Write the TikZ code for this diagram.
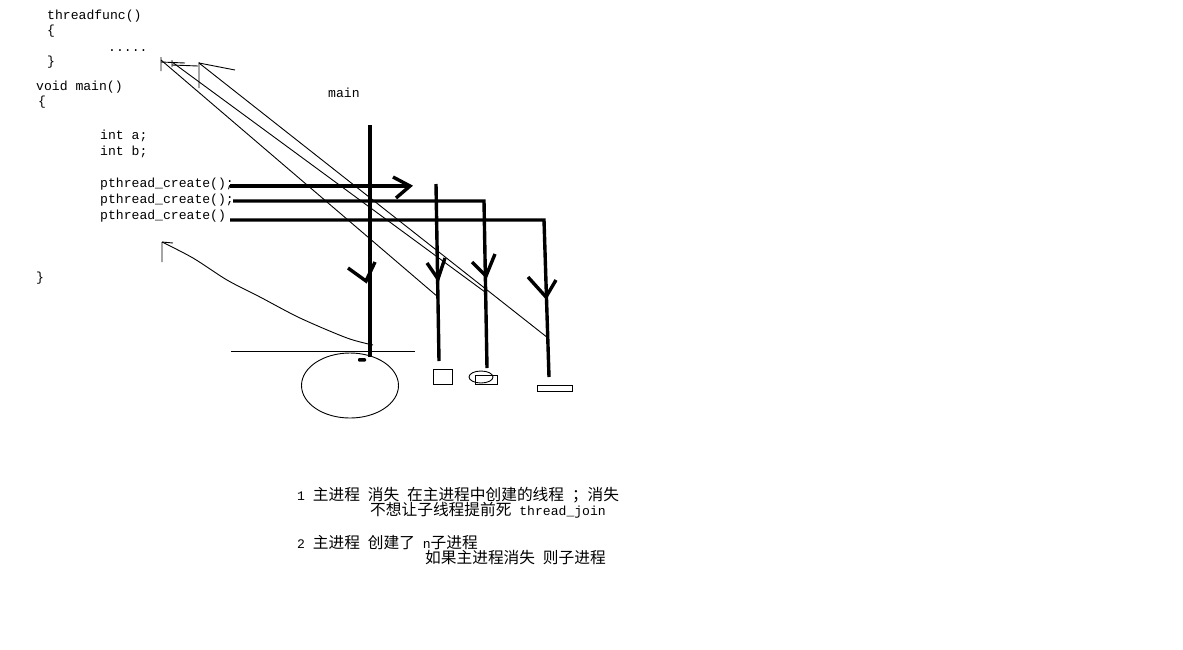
\documentclass[tikz,border=0pt]{standalone}
\usepackage{fontspec}
\setmonofont{Liberation Mono}
\newfontfamily\cjk{Noto Sans CJK SC}
\newcommand\zh[1]{{\cjk\fontsize{15.7}{16}\selectfont #1}}
\begin{document}
\begin{tikzpicture}[x=1pt,y=-1pt,
  code/.style={anchor=base west,inner sep=0pt,font=\ttfamily\fontsize{13.1}{16}\selectfont},
  thk/.style={line width=3.4pt},
  thn/.style={line width=0.9pt}]
\fill[white] (0,0) rectangle (1183,649);
\useasboundingbox (0,0) rectangle (1183,649);
\node[code] (tf) at (47,19) {threadfunc()};
\node[code] (ob1) at (47,34) {\{};
\node[code] (dots) at (108,51) {.....};
\node[code] (cb1) at (47,65) {\}};
\node[code] (vm) at (36,90) {void main()};
\node[code] (ob2) at (38,105) {\{};
\node[code] (ia) at (100,139) {int a;};
\node[code] (ib) at (100,155) {int b;};
\node[code] (pc1) at (100,187) {pthread\_create();};
\node[code] (pc2) at (100,203) {pthread\_create();};
\node[code] (pc3) at (100,219) {pthread\_create()};
\node[code] (cb2) at (36,281) {\}};
\node[code] (mainlbl) at (328,97) {main};
\node[code] (n1) at (297,500) {1 \zh{主进程} \zh{消失} \zh{在主进程中创建的线程} \zh{；消失}};
\node[code] (n2) at (370,515) {\zh{不想让子线程提前死} thread\_join};
\node[code] (n3) at (297,548) {2 \zh{主进程} \zh{创建了} n\zh{子进程}};
\node[code] (n4) at (425,563) {\zh{如果主进程消失} \zh{则子进程}};
% threads
\coordinate (M0) at (370,125); \coordinate (M1) at (370,357);
\draw[thk] (M0) -- (M1);
\coordinate (A0) at (230,186); \coordinate (A1) at (409,186);
\draw[thk] (A0) -- (A1);
\draw[thk] (393,177) -- (410,186) -- (396,198);
\coordinate (B0) at (436,184); \coordinate (B1) at (439,361);
\draw[thk] (B0) -- (B1);
\coordinate (C0) at (233,201); \coordinate (C1) at (487,368);
\draw[thk] (C0) -- (484,201) -- (C1);
\coordinate (D0) at (230,220); \coordinate (D1) at (549,377);
\draw[thk] (D0) -- (544,220) -- (D1);
\foreach \lx/\ly/\rx/\ry/\tx/\ty in {348/268/375/262/366/281,427/263/445/258/438/279,
  472/262/495/254/486/276,528/277/556/280/546/297}%
  \draw[thk] (\lx,\ly) -- (\tx,\ty) -- (\rx,\ry);
% ends
\draw[thn] (231,351) -- (415,351);
\draw[thn] (350,385.5) ellipse [x radius=48.5,y radius=32.5];
\fill[rounded corners=1pt] (358,358) rectangle (366,361.5);
\draw[thn] (433,369) rectangle (452,384);
\draw[thn] (481,377) ellipse [x radius=12,y radius=6];
\draw[thn] (475,375) rectangle (497,384);
\draw[thn] (537,385) rectangle (572,391);
% back to threadfunc
\draw[thn] (161,60) -- (438,297);
\draw[thn] (172,62) -- (485,292);
\draw[thn] (199,63) -- (548,338);
\draw[thn] (161,57) -- (161,71) (161,62) -- (185,63);
\draw[thn] (172,60) -- (172,67) (172,65) -- (198,66);
\draw[thn] (199,62) -- (199,88) (199,63) -- (235,70);
\draw[thn] plot[smooth] coordinates {(162,242) (193,258) (227,280) (260,297) (300,318) (347,338) (373,345)};
\draw[thn] (162,242) -- (162,262) (162,242) -- (173,243);
\end{tikzpicture}
\end{document}
